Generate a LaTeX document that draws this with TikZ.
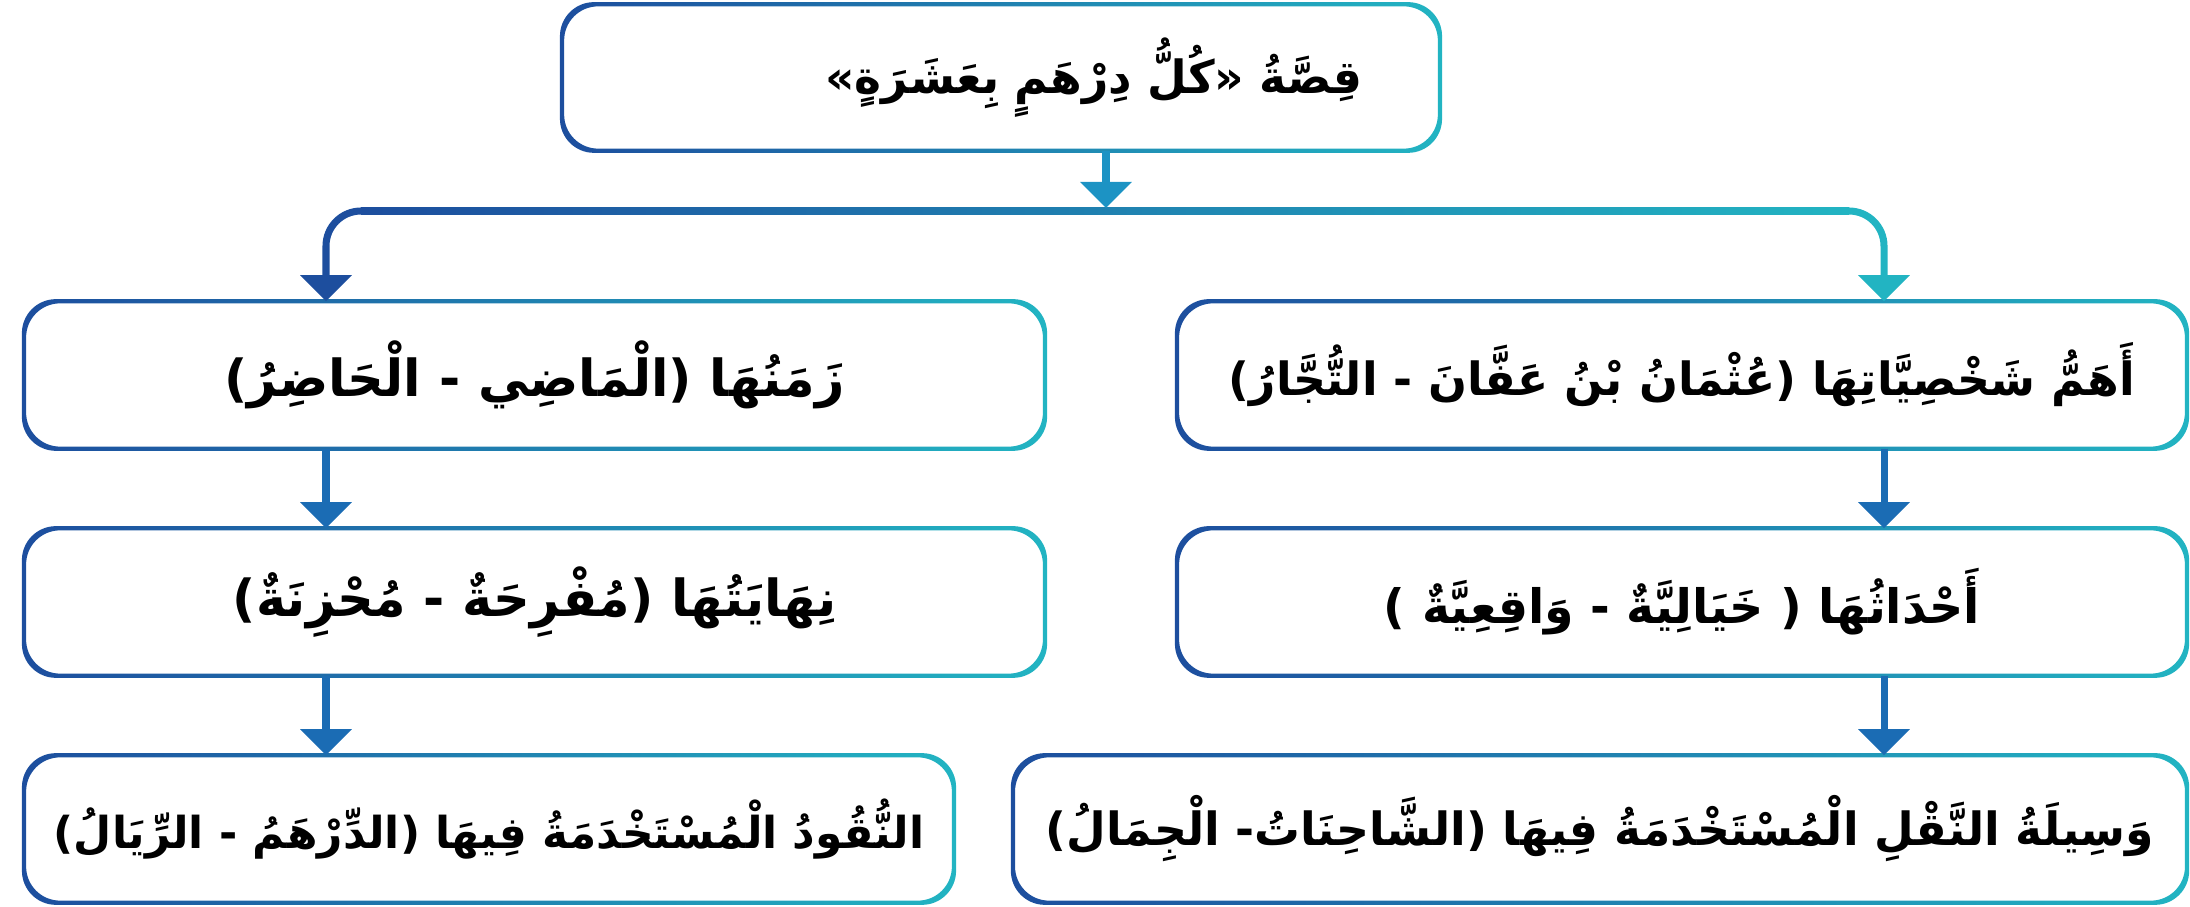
\documentclass[tikz,border=0pt]{standalone}
\usepackage{fontspec}
\newfontfamily\arabicfont[Script=Arabic]{DejaVu Sans}
\TeXXeTstate=1
\usetikzlibrary{arrows.meta,calc}
\definecolor{xanhdam}{HTML}{1D4E9E}
\definecolor{xanhngoc}{HTML}{22B4C2}
\definecolor{xanhvua}{HTML}{1B6CB4}
\definecolor{xanhtam}{HTML}{1C93C4}
\tikzset{co/.style={font=\arabicfont\bfseries\fontsize{#1}{#1}\selectfont},
    hop/.style={rectangle,inner sep=0pt,minimum height=1.46cm,co=13},
    muiten/.style={line width=2pt,-{Triangle[width=5mm,length=2.6mm]}}}
\newcommand\chu[1]{\beginR #1\endR}

\begin{document}
\begin{tikzpicture}[x=0.01cm,y=-0.01cm]
    \useasboundingbox (0,0) rectangle (2190,907);
    \def\xl{326} \def\xr{1884} \def\r{0.35cm}
    \coordinate (tl) at (\xl,0); \coordinate (tr) at (\xr,0);
    \coordinate (re) at (1106,211);
    \node[hop,minimum width=8.76cm,minimum height=1.45cm,text width=7.22cm,align=right] (top) at (1001,77.5) {\chu{قِصَّةُ «كُلُّ دِرْهَمٍ بِعَشَرَةٍ»}};
    \node[hop,co=14.5,minimum width=10.19cm] (a1) at (534.5,375) {\chu{زَمَنُهَا (الْمَاضِي - الْحَاضِرُ)}};
    \node[hop,co=14.5,minimum width=10.19cm] (a2) at (534.5,602) {\chu{نِهَايَتُهَا (مُفْرِحَةٌ - مُحْزِنَةٌ)}};
    \node[hop,co=12.5,minimum width=9.28cm] (a3) at (489,829) {\chu{النُّقُودُ الْمُسْتَخْدَمَةُ فِيهَا (الدِّرْهَمُ - الرِّيَالُ)}};
    \node[hop,minimum width=10.08cm] (b1) at (1682,375) {\chu{أَهَمُّ شَخْصِيَّاتِهَا (عُثْمَانُ بْنُ عَفَّانَ - التُّجَّارُ)}};
    \node[hop,co=13.5,minimum width=10.08cm] (b2) at (1682,602) {\chu{أَحْدَاثُهَا ( خَيَالِيَّةٌ - وَاقِعِيَّةٌ )}};
    \node[hop,minimum width=11.72cm] (b3) at (1600,829) {\chu{وَسِيلَةُ النَّقْلِ الْمُسْتَخْدَمَةُ فِيهَا (الشَّاحِنَاتُ- الْجِمَالُ)}};
    \foreach \n in {top,a1,a2,a3,b1,b2,b3}% viền chuyển màu
        \shade[even odd rule,left color=xanhdam,right color=xanhngoc,rounded corners=0.34cm]
        ([shift={(-0.6pt,-0.6pt)}]\n.south west) rectangle ([shift={(0.6pt,0.6pt)}]\n.north east)
        ([shift={(0.6pt,0.6pt)}]\n.south west) rectangle ([shift={(-0.6pt,-0.6pt)}]\n.north east);
    \draw[muiten,rounded corners=\r,xanhdam] (re) -| (a1.north -| tl);
    \draw[muiten,rounded corners=\r,xanhngoc] (re) -| (b1.north -| tr);
    \shade[left color=xanhdam,right color=xanhngoc] ($(tl |- re)+(35,-3.6)$) rectangle ($(tr |- re)+(-35,3.6)$);
    \draw[muiten,xanhtam] (top.south -| re) -- ($(re)+(0,-3)$);
    \foreach \u/\v in {a1/a2,a2/a3}
        \draw[muiten,xanhvua] (\u.south -| tl) -- (\v.north -| tl);
    \foreach \u/\v in {b1/b2,b2/b3}
        \draw[muiten,xanhvua] (\u.south -| tr) -- (\v.north -| tr);
\end{tikzpicture}
\end{document}
